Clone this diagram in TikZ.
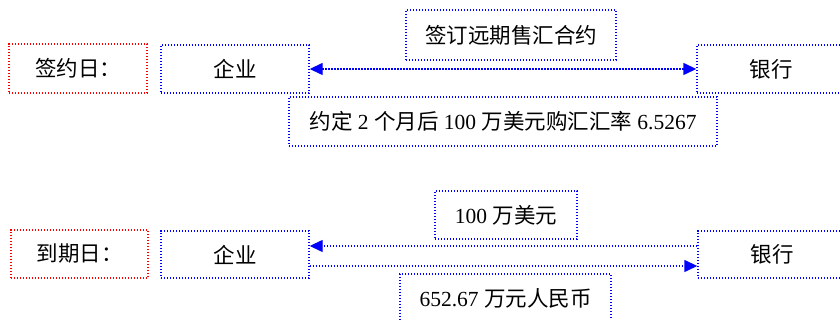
\documentclass[tikz,border=0pt]{standalone}
\usepackage{fontspec}
\setmainfont{Liberation Serif}
\newfontfamily\cjk{Noto Sans CJK SC}
\usetikzlibrary{arrows.meta,calc}
\begin{document}
\begin{tikzpicture}[x=1pt,y=1pt,
  dotline/.style={line width=1.4pt,dash pattern=on 1.4pt off 1.6pt},
  bluebox/.style={draw=blue,dotline,inner sep=0pt,minimum height=48pt,font=\fontsize{21.5}{26}\selectfont},
  redbox/.style={draw=red,dotline,inner sep=0pt,minimum height=48pt,font=\fontsize{21.5}{26}\selectfont},
  conn/.style={draw=blue,dotline},
  tip/.style={-{Triangle[length=13pt,width=12pt]}},
]
\useasboundingbox (0,0) rectangle (840,320);
\clip (0,0) rectangle (840,320);
% top row
\node[redbox,minimum width=138pt,minimum height=49pt] (d1) at (78,251.5) {\cjk 签约日：};
\node[bluebox,minimum width=148pt] (q1) at (235,251) {\cjk 企业};
\node[bluebox,minimum width=148pt] (b1) at (771,251) {\cjk 银行};
\node[bluebox,minimum width=210pt,minimum height=50pt] (l1) at (511,285) {\cjk 签订远期售汇合约};
\node[bluebox,minimum width=428pt,minimum height=49pt] (m1) at (503,198.5) {{\cjk 约定} 2 {\cjk 个月后} 100 {\cjk 万美元购汇汇率} 6.5267};
\draw[conn,{Triangle[length=13pt,width=12pt]}-{Triangle[length=13pt,width=12pt]}] (q1.east) -- (b1.west);
% bottom row
\node[redbox,minimum width=137pt] (d2) at (79.5,66) {\cjk 到期日：};
\node[bluebox,minimum width=148pt,minimum height=47pt] (q2) at (235,65.5) {\cjk 企业};
\node[bluebox,minimum width=148pt,minimum height=47pt] (b2) at (772,65.5) {\cjk 银行};
\node[bluebox,minimum width=142pt] (l2) at (506,105) {100 {\cjk 万美元}};
\node[bluebox,minimum width=211pt,minimum height=49pt] (m2) at (505.5,21.5) {652.67 {\cjk 万元人民币}};
\draw[conn,tip] ([yshift=8.5pt]b2.west) -- ([yshift=8.5pt]q2.east);
\draw[conn,tip] ([yshift=-11.5pt]q2.east) -- ([yshift=-11.5pt]b2.west);
\end{tikzpicture}
\end{document}
